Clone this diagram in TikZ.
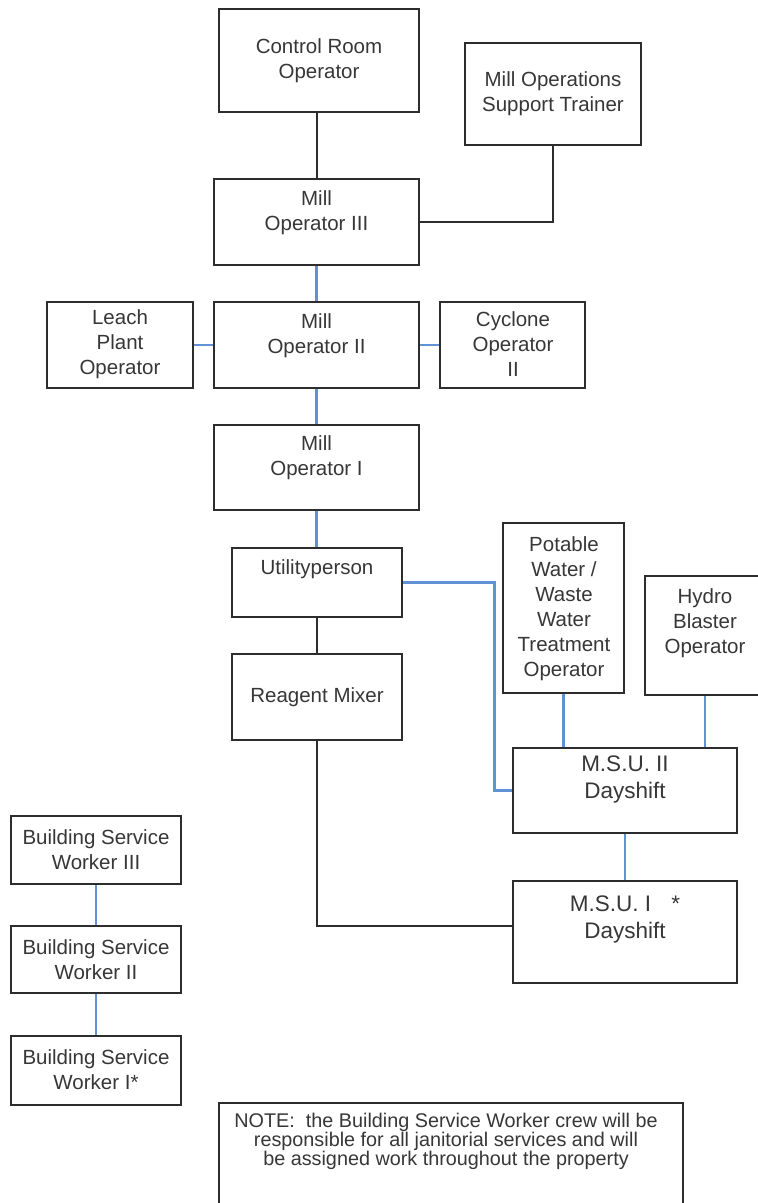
\documentclass[tikz,border=0pt]{standalone}
\usepackage{fontspec}
\setmainfont{Liberation Sans}
\definecolor{linkblue}{RGB}{98,146,214}
\definecolor{inkgray}{RGB}{45,45,45}
\definecolor{textgray}{RGB}{55,55,55}
\begin{document}
\begin{tikzpicture}[x=1pt,y=-1pt,
  box/.style={draw=inkgray,line width=2.8pt,fill=white,inner sep=0pt},
  lbl/.style={text=textgray,align=center,inner sep=0pt,font=\fontsize{20.5}{25}\selectfont},
  biglbl/.style={text=textgray,align=center,inner sep=0pt,font=\fontsize{22.5}{27}\selectfont},
  notelbl/.style={text=textgray,align=center,inner sep=0pt,font=\fontsize{19.8}{19.3}\selectfont},
  blk/.style={draw=inkgray,line width=2.3pt},
  blu/.style={draw=linkblue,line width=2.2pt}]
\clip (0,0) rectangle (758,1203);
\fill[white] (0,0) rectangle (758,1203);

% boxes
\node[box,minimum width=200pt,minimum height=103pt] (cro) at (319,60.5) {};
\node[box,minimum width=176pt,minimum height=102pt] (trn) at (553,94) {};
\node[box,minimum width=205pt,minimum height=86pt] (m3) at (316.5,222) {};
\node[box,minimum width=205pt,minimum height=86pt] (m2) at (316.5,345) {};
\node[box,minimum width=146pt,minimum height=86pt] (lch) at (120,345) {};
\node[box,minimum width=145pt,minimum height=86pt] (cyc) at (512.5,345) {};
\node[box,minimum width=205pt,minimum height=85pt] (m1) at (316.5,467.5) {};
\node[box,minimum width=170pt,minimum height=69pt] (utl) at (317,582.5) {};
\node[box,minimum width=170pt,minimum height=86pt] (rgm) at (317,697) {};
\node[box,minimum width=121pt,minimum height=170pt] (pot) at (563.5,608) {};
\node[box,minimum width=120pt,minimum height=119pt] (hyd) at (705,635.5) {};
\node[box,minimum width=224pt,minimum height=85pt] (ms2) at (625,790.5) {};
\node[box,minimum width=224pt,minimum height=102pt] (ms1) at (625,932) {};
\node[box,minimum width=170pt,minimum height=68pt] (b3) at (96,850) {};
\node[box,minimum width=170pt,minimum height=67pt] (b2) at (96,959.5) {};
\node[box,minimum width=170pt,minimum height=69pt] (b1) at (96,1070.5) {};
\node[box,minimum width=464pt,minimum height=107pt] (note) at (451,1156.5) {};

% reporting lines
\draw[blk] (cro.south -| m3.north) ++(0.5,0) -- ([xshift=0.5pt]m3.north);
\draw[blk] (trn.south) |- (m3.east);
\draw[blu] (m3.south) -- (m2.north);
\draw[blu] (lch.east) -- (m2.west);
\draw[blu] (m2.east) -- (cyc.west);
\draw[blu] (m2.south) -- (m1.north);
\draw[blu] (m1.south) -- (m1.south |- utl.north);
\draw[blk] (utl.south) -- (rgm.north);
\draw[blu] (utl.east) -- ++(91,0) |- (ms2.west);
\draw[blk] (rgm.south) |- ([yshift=6pt]ms1.west);
\draw[blu] (pot.south) -- (pot.south |- ms2.north);
\draw[blu] (hyd.south) -- (hyd.south |- ms2.north);
\draw[blu] (ms2.south) -- (ms1.north);
\draw[blu] (b3.south) -- (b2.north);
\draw[blu] (b2.south) -- (b1.north);

% box texts
\node[lbl] (cro-t) at (319,60.5) {Control Room\\Operator};
\node[lbl] (trn-t) at (553,93.5) {Mill Operations\\Support Trainer};
\node[lbl] (m3-t) at (316.5,213) {Mill\\Operator III};
\node[lbl] (m2-t) at (316.5,335.5) {Mill\\Operator II};
\node[lbl] (lch-t) at (120,344) {Leach\\Plant\\Operator};
\node[lbl] (cyc-t) at (513,344.5) {Cyclone\\Operator\\II};
\node[lbl] (m1-t) at (316.5,458) {Mill\\Operator I};
\node[lbl] (utl-t) at (317,569) {Utilityperson};
\node[lbl] (rgm-t) at (317,697) {Reagent Mixer};
\node[lbl] (pot-t) at (564,609) {Potable\\Water /\\Waste\\Water\\Treatment\\Operator};
\node[lbl] (hyd-t) at (705,623) {Hydro\\Blaster\\Operator};
\node[biglbl] (ms2-t) at (625,779) {M.S.U. II\\Dayshift};
\node[biglbl] (ms1-t) at (625,919) {M.S.U. I\hspace{0.9em}*\\Dayshift};
\node[lbl] (b3-t) at (96,849.5) {Building Service\\Worker III};
\node[lbl] (b2-t) at (96,959.5) {Building Service\\Worker II};
\node[lbl] (b1-t) at (96,1069.5) {Building Service\\Worker I*};
\node[notelbl] (note-t) at (446,1141.5) {NOTE:\ \ the Building Service Worker crew will be\\responsible for all janitorial services and will\\be assigned work throughout the property};
\end{tikzpicture}
\end{document}
